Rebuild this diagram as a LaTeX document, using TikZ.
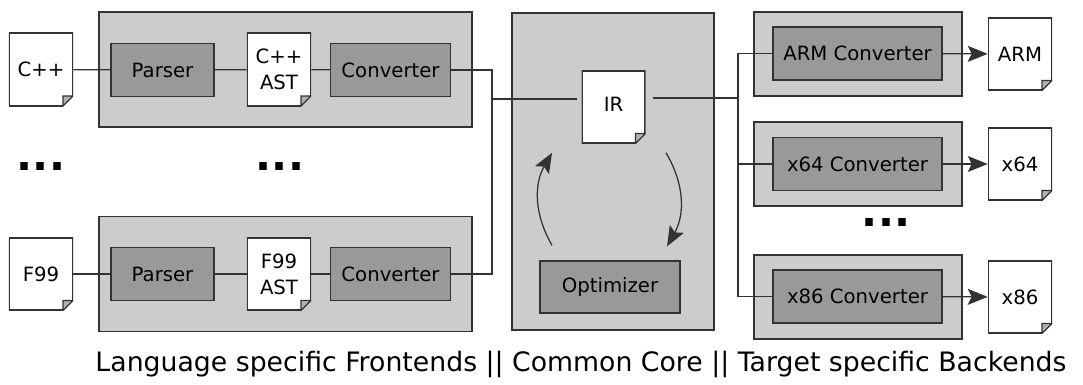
\documentclass[tikz,border=0pt]{standalone}
\usepackage{fontspec}
\setmainfont{DejaVu Sans}
\usetikzlibrary{arrows.meta,calc}

\tikzset{
    panel/.style={draw=black!80, fill=black!20, line width=0.9pt, inner sep=0pt},
    stage/.style={draw=black!80, fill=black!40, line width=0.9pt, inner sep=0pt,
        minimum height=1.325cm, font=\fontsize{14}{17}\selectfont},
    doc/.style={inner sep=0pt, minimum width=1.6cm, minimum height=1.825cm,
        align=center, font=\fontsize{14}{18.5}\selectfont,
        path picture={
            \coordinate (nw) at (path picture bounding box.north west);
            \coordinate (se) at (path picture bounding box.south east);
            \fill[white] (nw) -- (nw -| se) -- ([yshift=0.25cm]se)
                -- ([xshift=-0.25cm]se) -- (nw |- se) -- cycle;
            \draw[black!80, line width=1.8pt] ([yshift=0.25cm]se) -- (nw -| se)
                -- (nw) -- (nw |- se) -- ([xshift=-0.25cm]se);
            \draw[black!80, line width=0.9pt, fill=black!30] ([xshift=-0.25cm]se)
                -- ([xshift=-0.25cm,yshift=0.25cm]se) -- ([yshift=0.25cm]se) -- cycle;}},
    wire/.style={draw=black!80, line width=0.9pt},
    flow/.style={wire, -{Stealth[length=5mm,width=4mm,inset=1mm]}},
    etc/.style={font=\fontsize{30}{32}\selectfont\bfseries}
}

\begin{document}
\begin{tikzpicture}[x=0.025cm, y=-0.025cm]
    \useasboundingbox (0,0) rectangle (1083,385);

    \node[panel, minimum width=9.325cm, minimum height=2.875cm] (fe1) at (285.5,69.5) {};
    \node[panel, minimum width=9.325cm, minimum height=2.875cm] (fe2) at (285.5,274) {};
    \node[panel, minimum width=5.05cm, minimum height=7.925cm] (core) at (613,171.5) {};
    \node[panel, minimum width=5.2cm, minimum height=2.1cm] (be1) at (858,54) {};
    \node[panel, minimum width=5.2cm, minimum height=2.1cm] (be2) at (858,164) {};
    \node[panel, minimum width=5.2cm, minimum height=2.1cm] (be3) at (858,297) {};

    \node[doc] (cpp) at (41,69.5) {C++};
    \node[stage, minimum width=2.575cm] (parse1) at (162.5,70) {Parser};
    \node[doc] (ast1) at (279,69.5) {C++\\AST};
    \node[stage, minimum width=3cm] (conv1) at (390.5,70) {Converter};

    \node[doc] (f99) at (41,274) {F99};
    \node[stage, minimum width=2.575cm] (parse2) at (162.5,274) {Parser};
    \node[doc] (ast2) at (279,274) {F99\\AST};
    \node[stage, minimum width=3cm] (conv2) at (390.5,274) {Converter};

    \node[doc] (ir) at (613.5,107) {\raisebox{4pt}{IR}};
    \node[stage, minimum width=3.5cm, minimum height=1.3cm] (opt) at (610,287) {Optimizer};

    \node[stage, minimum width=4.225cm] (armc) at (857.5,53.5) {ARM Converter};
    \node[stage, minimum width=4.225cm] (x64c) at (857.5,164) {x64 Converter};
    \node[stage, minimum width=4.225cm] (x86c) at (857.5,296.5) {x86 Converter};
    \node[doc] (arm) at (1020,54) {ARM};
    \node[doc] (x64) at (1020,164) {x64};
    \node[doc] (x86) at (1020,297) {x86};

    \node[etc] (dots1) at (41,167) {...};
    \node[etc] (dots2) at (280,167) {...};
    \node[etc] (dots3) at (886,223) {...};

    \coordinate (fbus) at (492,99);
    \coordinate (tbus) at (738,98);

    \draw[wire] (cpp) -- (parse1) -- (ast1) -- (conv1);
    \draw[wire] (f99) -- (parse2) -- (ast2) -- (conv2);
    \draw[wire] (conv1.east) -| (fbus) |- (conv2.east);
    \draw[wire] (fbus) -- ($(fbus -| ir.west)+(-4,0)$);
    \draw[wire] ($(tbus -| ir.east)+(7,0)$) -- (tbus);
    \draw[wire] (armc.west) -| (tbus) |- (x86c.west);
    \draw[wire] (x64c.west) -- (x64c.west -| tbus);

    \draw[flow] (armc) -- (arm);
    \draw[flow] (x64c) -- (x64);
    \draw[flow] (x86c) -- (x86);

    \draw[flow] ($(opt.north)+(-58,-15)$) to[bend left=30] ($(ir.south)+(-61.5,9)$);
    \draw[flow] ($(ir.south)+(52.5,9)$) to[bend left=30] ($(opt.north)+(57,-14)$);

    \node[font=\fontsize{19}{21}\selectfont] (caption) at (581,364)
        {Language specific Frontends || Common Core || Target specific Backends};
\end{tikzpicture}
\end{document}
